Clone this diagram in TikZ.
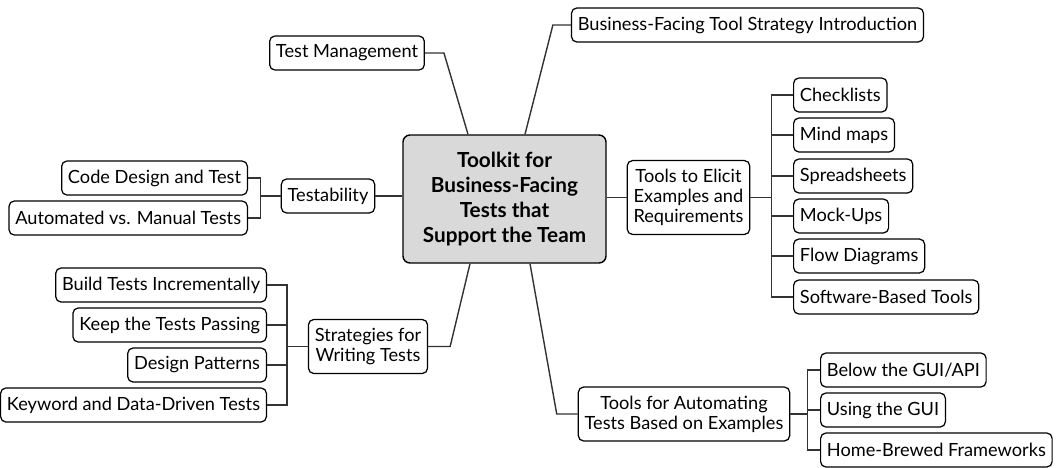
\documentclass[tikz,border=0pt]{standalone}
\usepackage{fontspec}
\setmainfont{Lato}
\usepackage{xcolor}
\usepackage{tikz}
\usetikzlibrary{positioning}
\usetikzlibrary{shapes}

\definecolor{hubgray}{RGB}{217,217,217}

\begin{document}
\begin{tikzpicture}
        [topic/.style={rectangle,rounded corners=3pt,draw=black,line width=0.7pt,fill=white,minimum height=0.68cm,inner xsep=3.6pt,inner ysep=2pt,align=center,font=\fontsize{10.35}{11.3}\selectfont},
        multi/.style={inner ysep=5pt},
        hub/.style={rectangle,rounded corners=4pt,draw=black,line width=0.8pt,fill=hubgray,minimum width=4.06cm,minimum height=2.56cm,align=center,font=\fontsize{11.8}{14.2}\selectfont\bfseries},
        link/.style={-,draw=black!80,line width=0.8pt}]

\useasboundingbox (0,0) rectangle (21.12,-9.34);

\begin{scope}

% types
\node[hub] at (10.09,-3.98) (toolkit) {Toolkit for\\Business-Facing\\Tests that\\Support the Team};

\node[topic] at (6.94,-1.06) (testmgmt) {Test Management};

\node[topic] at (14.95,-0.5) (bizintro) {Business-Facing Tool Strategy Introduction};

\node[topic] at (6.56,-3.92) (testability) {Testability};
\node[topic,anchor=east] at (4.96,-3.56) (codedesign) {Code Design and Test};
\node[topic,anchor=east] at (4.96,-4.36) (automated) {Automated vs. Manual Tests};

\node[topic,multi] at (13.77,-3.95) (elicit) {Tools to Elicit\\Examples and\\Requirements};
\node[topic,anchor=west] at (15.86,-1.9) (checklists) {Checklists};
\node[topic,anchor=west] at (15.86,-2.7) (mindmaps) {Mind maps};
\node[topic,anchor=west] at (15.86,-3.52) (spreadsheets) {Spreadsheets};
\node[topic,anchor=west] at (15.86,-4.32) (mockups) {Mock-Ups};
\node[topic,anchor=west] at (15.86,-5.12) (flowdiag) {Flow Diagrams};
\node[topic,anchor=west] at (15.86,-5.94) (software) {Software-Based Tools};

\node[topic,multi] at (7.36,-6.93) (strategies) {Strategies for\\Writing Tests};
\node[topic,anchor=east] at (5.34,-5.7) (build) {Build Tests Incrementally};
\node[topic,anchor=east] at (5.34,-6.5) (keep) {Keep the Tests Passing};
\node[topic,anchor=east] at (5.34,-7.3) (patterns) {Design Patterns};
\node[topic,anchor=east] at (5.34,-8.1) (keyword) {Keyword and Data-Driven Tests};

\node[topic,multi] at (13.68,-8.28) (automating) {Tools for Automating\\Tests Based on Examples};
\node[topic,anchor=west] at (16.4,-7.4) (belowgui) {Below the GUI/API};
\node[topic,anchor=west] at (16.4,-8.2) (usinggui) {Using the GUI};
\node[topic,anchor=west] at (16.4,-9.0) (homebrew) {Home-Brewed Frameworks};

%arrows
\draw[link] (testmgmt.east) -- ++(0.38,0) -- ([xshift=-0.73cm]toolkit.north);
\draw[link] (bizintro.west) -- ++(-0.36,0) -- ([xshift=0.41cm]toolkit.north);
\draw[link] (testability.east) -- (testability.east -| toolkit.west);
\draw[link] (toolkit.east |- elicit.west) -- (elicit.west);
\draw[link] (strategies.east) -- ++(0.44,0) -- ([xshift=-0.69cm]toolkit.south);
\draw[link] (automating.west) -- ++(-0.42,0) -- ([xshift=0.51cm]toolkit.south);

\foreach \leaf in {codedesign,automated}
    \draw[link] (testability.west) -- ++(-0.4,0) |- (\leaf.east);
\foreach \leaf in {checklists,mindmaps,spreadsheets,mockups,flowdiag,software}
    \draw[link] (elicit.east) -- ++(0.42,0) |- (\leaf.west);
\foreach \leaf in {build,keep,patterns,keyword}
    \draw[link] (strategies.west) -- ++(-0.42,0) |- (\leaf.east);
\foreach \leaf in {belowgui,usinggui,homebrew}
    \draw[link] (automating.east) -- ++(0.34,0) |- (\leaf.west);

\end{scope}

\end{tikzpicture}
\end{document}
